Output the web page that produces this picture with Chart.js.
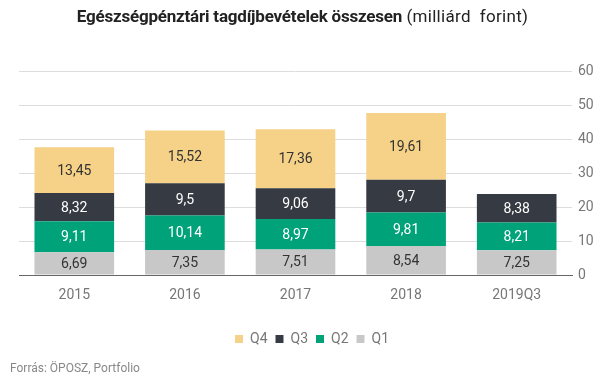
<!DOCTYPE html>
<html>
<head>
<meta charset="utf-8">
<script src="https://cdn.jsdelivr.net/npm/chart.js@4/dist/chart.umd.min.js"></script>
<style>
  html, body { margin: 0; padding: 0; background: #fff; }
  #wrap { position: relative; width: 605px; height: 379px; font-family: Roboto, sans-serif; }
  #title { position: absolute; left: 0; top: 6px; width: 605px; text-align: center; font-size: 17px; color: #222; white-space: pre; }
  #title b { font-weight: 700; letter-spacing: -0.2px; }
  #title span { letter-spacing: 0.3px; }
  #source { position: absolute; left: 10px; top: 361px; font-size: 12px; color: #888; }
  canvas { position: absolute; left: 0; top: 0; }
</style>
</head>
<body>
<div id="wrap">
  <canvas id="c" width="605" height="379"></canvas>
  <div id="title"><b>Egészségpénztári tagdíjbevételek összesen</b> <span>(milliárd  forint)</span></div>
  <div id="source">Forrás: ÖPOSZ, Portfolio</div>
</div>
<script>
const categories = ['2015', '2016', '2017', '2018', '2019Q3'];
const q1 = [6.69, 7.35, 7.51, 8.54, 7.25];
const q2 = [9.11, 10.14, 8.97, 9.81, 8.21];
const q3 = [8.32, 9.5, 9.06, 9.7, 8.38];
const q4 = [13.45, 15.52, 17.36, 19.61, null];
const yTicks = [0, 10, 20, 30, 40, 50, 60];

const labelColors = ['#333', '#fff', '#fff', '#333'];

const valueLabels = {
  id: 'valueLabels',
  afterDatasetsDraw(chart) {
    const ctx = chart.ctx;
    ctx.save();
    ctx.font = '14px Roboto, sans-serif';
    ctx.textAlign = 'center';
    ctx.textBaseline = 'middle';
    chart.data.datasets.forEach((ds, i) => {
      const meta = chart.getDatasetMeta(i);
      meta.data.forEach((el, j) => {
        const v = ds.data[j];
        if (v === null || v === undefined) return;
        ctx.fillStyle = labelColors[i];
        ctx.fillText(String(v).replace('.', ','), el.x, (el.y + el.base) / 2 + 1);
      });
    });
    ctx.restore();
  }
};

new Chart(document.getElementById('c'), {
  type: 'bar',
  data: {
    labels: categories,
    datasets: [
      { label: 'Q1', data: q1, backgroundColor: '#c8c8c8' },
      { label: 'Q2', data: q2, backgroundColor: '#00a27a' },
      { label: 'Q3', data: q3, backgroundColor: '#363a42' },
      { label: 'Q4', data: q4, backgroundColor: '#f5d287' }
    ]
  },
  options: {
    responsive: false,
    animation: false,
    layout: { padding: { top: 71, left: 19, right: 0, bottom: 23 } },
    datasets: { bar: { categoryPercentage: 1, barPercentage: 0.72, borderWidth: 0 } },
    plugins: {
      title: { display: false },
      tooltip: { enabled: false },
      legend: {
        position: 'bottom',
        reverse: true,
        labels: { boxWidth: 8, boxHeight: 8, color: '#777', font: { family: 'Roboto', size: 14 }, padding: 8 }
      }
    },
    scales: {
      x: {
        stacked: true,
        afterFit(scale) { scale.height = 49; },
        grid: { display: false, drawTicks: false },
        border: { display: true, color: '#666', width: 1 },
        ticks: { color: '#777', font: { family: 'Roboto', size: 14 }, padding: 12 }
      },
      y: {
        stacked: true,
        position: 'right',
        min: 0, max: 60,
        afterBuildTicks(scale) { scale.ticks = yTicks.map(v => ({ value: v })); },
        afterFit(scale) { scale.width = 33; },
        grid: { color: '#dddddd', drawTicks: false },
        border: { display: false },
        ticks: { color: '#777', font: { family: 'Roboto', size: 14 }, padding: 6 }
      }
    }
  },
  plugins: [valueLabels]
});
</script>
</body>
</html>
